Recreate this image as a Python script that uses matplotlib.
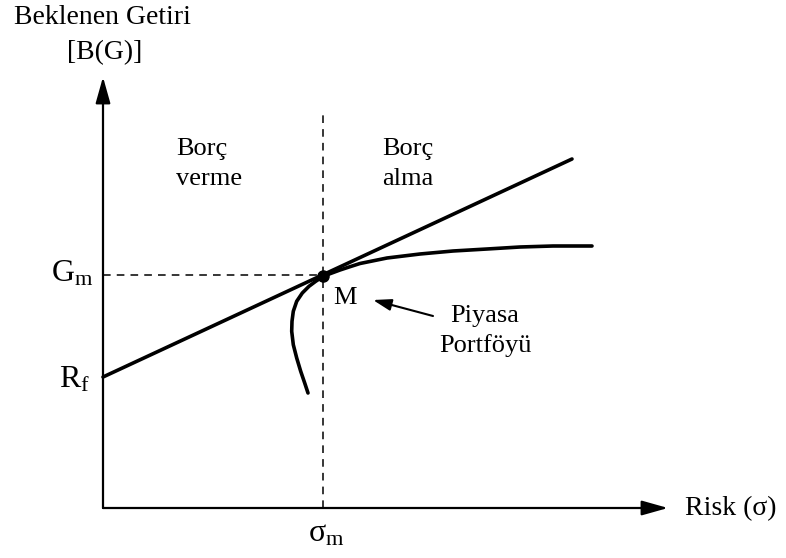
import matplotlib
matplotlib.use("Agg")
import matplotlib.pyplot as plt

plt.rcParams["font.family"] = ["Liberation Serif", "DejaVu Serif"]
plt.rcParams["mathtext.fontset"] = "custom"
plt.rcParams["mathtext.rm"] = "Liberation Serif"
plt.rcParams["mathtext.it"] = "Liberation Serif:italic"

# Sermaye piyasası doğrusu (risk, getiri)
cml_risk = [0, 469]
cml_getiri = [131, 349]

# Etkin sınır eğrisi
sinir_risk = [205, 201.7, 197.7, 193.7, 190.3, 188.7, 189, 190.3, 193.7,
              199.3, 206, 212.7, 220, 227, 237, 247, 257, 284, 317, 350,
              384, 417, 450, 489]
sinir_getiri = [115, 125, 136.7, 150, 163.3, 176.7, 186.7, 196.7, 206.7,
                215, 221.7, 226.7, 231.5, 234.3, 238, 241.3, 244.5, 250,
                254, 257, 259, 261, 262, 262]

# Piyasa portföyü M
sigma_m = 220
g_m = 233

# eksen uçları
x_max = 565
y_max = 431
dikey_ust = 395

fig = plt.figure(figsize=(7.86, 5.58), dpi=100)
ax = fig.add_axes([0, 0, 1, 1])
ax.set_xlim(-103, 683)
ax.set_ylim(-50, 508)
ax.axis("off")

# eksenler
ok = dict(arrowstyle="-|>,head_length=1.6,head_width=0.45", lw=1.6,
          color="black", shrinkA=0, shrinkB=0, mutation_scale=10)
ax.annotate("", xy=(0, y_max), xytext=(0, 0), arrowprops=ok)
ax.annotate("", xy=(x_max, 0), xytext=(0, 0), arrowprops=ok)

# kesikli çizgiler
ax.plot([sigma_m, sigma_m], [0, dikey_ust], color="black", lw=1.1,
        dashes=(5, 4))
ax.plot([0, sigma_m], [g_m, g_m], color="black", lw=1.1, dashes=(5, 4))

# doğru ve eğri
ax.plot(cml_risk, cml_getiri, color="black", lw=2.6, solid_capstyle="round")
ax.plot(sinir_risk, sinir_getiri, color="black", lw=2.6,
        solid_capstyle="round", solid_joinstyle="round")
ax.plot([sigma_m], [g_m - 1], "o", color="black", markersize=8)

# etiketler
ax.text(-1, 491, "Beklenen Getiri", fontsize=20, ha="center", va="center")
ax.text(2, 455, "[B(G)]", fontsize=20, ha="center", va="center")

ax.text(73, 353, "Borç", fontsize=19, ha="left", va="baseline")
ax.text(73, 323, "verme", fontsize=19, ha="left", va="baseline")
ax.text(279, 353, "Borç", fontsize=19, ha="left", va="baseline")
ax.text(279, 323, "alma", fontsize=19, ha="left", va="baseline")

ax.text(230, 204, "M", fontsize=19, ha="left", va="baseline")
ax.text(382, 186, "Piyasa", fontsize=19, ha="center", va="baseline")
ax.text(382, 156, "Portföyü", fontsize=19, ha="center", va="baseline")
ax.annotate("", xy=(270, 208), xytext=(330, 192),
            arrowprops=dict(arrowstyle="-|>,head_length=1.1,head_width=0.35",
                            lw=1.5, color="black", shrinkA=0, shrinkB=0,
                            mutation_scale=10))

ax.text(-10, 226, r"G$_{\mathrm{m}}$", fontsize=23, ha="right", va="baseline")
ax.text(-13, 121, r"R$_{\mathrm{f}}$", fontsize=23, ha="right", va="baseline")
ax.text(223, -34, r"σ$_{\mathrm{m}}$", fontsize=23, ha="center", va="baseline")
ax.text(582, -7, "Risk (σ)", fontsize=20, ha="left", va="baseline")

fig.savefig("out.png", dpi=100)
